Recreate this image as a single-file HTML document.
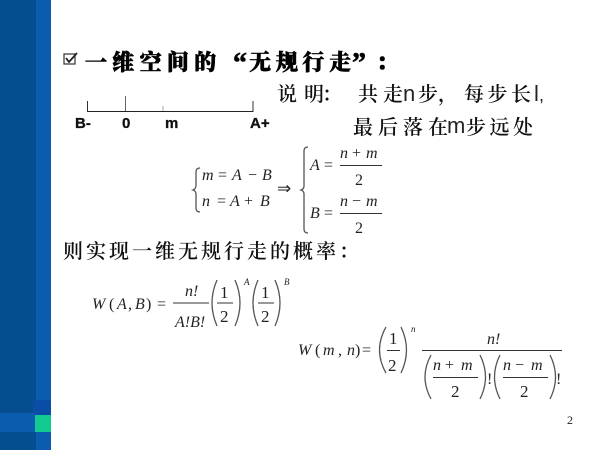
<!DOCTYPE html>
<html>
<head>
<meta charset="utf-8">
<style>
html,body{margin:0;padding:0;background:#fff;width:600px;height:450px;overflow:hidden}
svg{display:block}
.h{font-family:"Noto Serif CJK SC",serif;font-weight:900;fill:#000;font-size:22px;stroke:#000;stroke-width:.6}
.k{font-family:"Noto Serif CJK SC",serif;font-weight:600;fill:#111;font-size:20px}
.l{font-family:"Liberation Sans",sans-serif;fill:#222;font-size:22px}
.b{font-family:"Liberation Sans",sans-serif;font-weight:bold;fill:#111;font-size:15px;stroke:#111;stroke-width:.3}
.m{font-family:"Liberation Serif",serif;fill:#222;font-size:16px}
.i{font-style:italic}
.s{font-size:9px;font-style:italic}
.p{fill:none;stroke:#555;stroke-width:1.3}
.r{stroke:#333;stroke-width:1}
</style>
</head>
<body>
<svg width="600" height="450" viewBox="0 0 600 450" xmlns="http://www.w3.org/2000/svg">
<rect width="600" height="450" fill="#fff"/>
<rect x="0" y="0" width="36" height="450" fill="#044e8f"/>
<rect x="36" y="0" width="15" height="450" fill="#0b5cae"/>
<rect x="33" y="400" width="18" height="15" fill="#0a4da6"/>
<rect x="0" y="413" width="35" height="19" fill="#0a5cae"/>
<rect x="35" y="415" width="16" height="17" fill="#12c98f"/>

<!-- checkbox -->
<rect x="64" y="54" width="11" height="10" fill="none" stroke="#333" stroke-width="1.2"/>
<path d="M66 58 L69 62 L77 53" fill="none" stroke="#222" stroke-width="1.8"/>

<!-- title -->
<text class="h" x="85" y="70" letter-spacing="5.3">一维空间的</text>
<text class="h" x="233" y="72" style="font-family:'Liberation Serif',serif;font-weight:bold;font-size:28px">“</text>
<text class="h" x="249" y="70" letter-spacing="4.7">无规行走</text>
<text class="h" x="352" y="72" style="font-family:'Liberation Serif',serif;font-weight:bold;font-size:28px">”</text>
<text class="h" x="376" y="70">：</text>

<!-- number line -->
<line x1="87.5" y1="101" x2="87.5" y2="112" class="r"/>
<line x1="125.5" y1="96" x2="125.5" y2="112" stroke="#666"/>
<line x1="163" y1="106" x2="163" y2="112" stroke="#aaa"/>
<line x1="253" y1="101" x2="253" y2="112" class="r"/>
<line x1="87" y1="111.5" x2="253" y2="111.5" stroke="#222" stroke-width="1"/>
<text class="b" x="75" y="128">B-</text>
<text class="b" x="122" y="128">0</text>
<text class="b" x="165" y="128">m</text>
<text class="b" x="250" y="128">A+</text>

<!-- explanation -->
<text class="k" x="277" y="101" letter-spacing="7">说明</text>
<text class="k" x="322" y="101">：</text>
<text class="k" x="358" y="101" letter-spacing="5">共走</text>
<text class="l" x="403" y="101">n</text>
<text class="k" x="418" y="101">步</text>
<text class="k" x="438" y="101">，</text>
<text class="k" x="464" y="101" letter-spacing="3.5">每步长</text>
<text class="l" x="534" y="101">l</text>
<text class="l" x="539" y="101" style="font-size:18px">,</text>
<text class="k" x="353" y="134" letter-spacing="5">最后落在</text>
<text class="l" x="447" y="133">m</text>
<text class="k" x="466" y="134" letter-spacing="3.5">步远处</text>

<!-- system of equations -->
<path class="p" d="M200 168 Q196 168 196 172 L196 185 Q196 189 193 190 Q196 191 196 194 L196 208 Q196 212 200 212"/>
<text class="m i" x="202" y="180">m</text><text class="m" x="218" y="180">=</text><text class="m i" x="232" y="180">A</text><text class="m" x="248" y="180">−</text><text class="m i" x="262" y="180">B</text>
<text class="m i" x="202" y="206">n</text><text class="m" x="217" y="206">=</text><text class="m i" x="230" y="206">A</text><text class="m" x="244" y="206">+</text><text class="m i" x="260" y="206">B</text>
<text class="m" x="277" y="194" style="font-size:17px">⇒</text>
<path class="p" d="M308 147 Q304 147 304 151 L304 186 Q304 189 301 190 Q304 191 304 194 L304 229 Q304 233 308 233"/>
<text class="m i" x="310" y="170">A</text><text class="m" x="324" y="170">=</text>
<line x1="340" y1="165.5" x2="382" y2="165.5" stroke="#333"/>
<text class="m i" x="340" y="158">n</text><text class="m" x="352" y="158">+</text><text class="m i" x="366" y="158">m</text>
<text class="m" x="355" y="185">2</text>
<text class="m i" x="310" y="218">B</text><text class="m" x="324" y="218">=</text>
<line x1="340" y1="213.5" x2="382" y2="213.5" stroke="#333"/>
<text class="m i" x="340" y="206">n</text><text class="m" x="352" y="206">−</text><text class="m i" x="366" y="206">m</text>
<text class="m" x="355" y="233">2</text>

<!-- subtitle -->
<text class="k" x="63" y="258" letter-spacing="3">则实现一维无规行走的概率：</text>

<!-- W(A,B) -->
<text class="m i" x="92" y="309">W</text><text class="m" x="109" y="309">(</text><text class="m i" x="117" y="309">A</text><text class="m" x="128" y="309">,</text><text class="m i" x="135" y="309">B</text><text class="m" x="146" y="309">)</text><text class="m" x="157" y="309">=</text>
<line x1="173" y1="303" x2="209" y2="303" stroke="#333"/>
<text class="m i" x="185" y="296">n!</text>
<text class="m i" x="175" y="327">A!B!</text>
<path class="p" d="M217 280 Q207 303 217 326"/>
<line x1="217" y1="303" x2="233" y2="303" stroke="#333"/>
<text class="m" x="220" y="298" style="font-size:17px">1</text>
<text class="m" x="220" y="322" style="font-size:17px">2</text>
<path class="p" d="M235 280 Q245 303 235 326"/>
<text class="m s" x="244" y="285" style="font-size:9px">A</text>
<path class="p" d="M258 280 Q248 303 258 326"/>
<line x1="258" y1="303" x2="274" y2="303" stroke="#333"/>
<text class="m" x="261" y="298" style="font-size:17px">1</text>
<text class="m" x="261" y="322" style="font-size:17px">2</text>
<path class="p" d="M275 280 Q285 303 275 326"/>
<text class="m s" x="284" y="285" style="font-size:9px">B</text>

<!-- W(m,n) -->
<text class="m i" x="298" y="355">W</text><text class="m" x="315" y="355">(</text><text class="m i" x="323" y="355">m</text><text class="m" x="338" y="355">,</text><text class="m i" x="347" y="355">n</text><text class="m" x="355" y="355">)</text><text class="m" x="362" y="355">=</text>
<path class="p" d="M386 327 Q373 350 386 373"/>
<line x1="387" y1="350.5" x2="400" y2="350.5" stroke="#333"/>
<text class="m" x="389" y="344" style="font-size:17px">1</text>
<text class="m" x="388" y="371" style="font-size:17px">2</text>
<path class="p" d="M401 327 Q412 350 401 373"/>
<text class="m s" x="411" y="332" style="font-size:9px">n</text>
<line x1="422" y1="350.5" x2="562" y2="350.5" stroke="#333"/>
<text class="m i" x="487" y="344">n!</text>
<path class="p" d="M431 355 Q419 377 431 399"/>
<line x1="433" y1="377.5" x2="478" y2="377.5" stroke="#333"/>
<text class="m i" x="433" y="370">n</text><text class="m" x="445" y="370">+</text><text class="m i" x="461" y="370">m</text>
<text class="m" x="451" y="397" style="font-size:17px">2</text>
<path class="p" d="M480 355 Q491 377 480 399"/>
<text class="m" x="487" y="384">!</text>
<path class="p" d="M500 355 Q489 377 500 399"/>
<line x1="503" y1="377.5" x2="548" y2="377.5" stroke="#333"/>
<text class="m i" x="503" y="370">n</text><text class="m" x="515" y="370">−</text><text class="m i" x="531" y="370">m</text>
<text class="m" x="520" y="397" style="font-size:17px">2</text>
<path class="p" d="M550 355 Q561 377 550 399"/>
<text class="m" x="556" y="384">!</text>

<text class="m" x="567" y="424" style="font-size:12px">2</text>
</svg>
</body>
</html>
